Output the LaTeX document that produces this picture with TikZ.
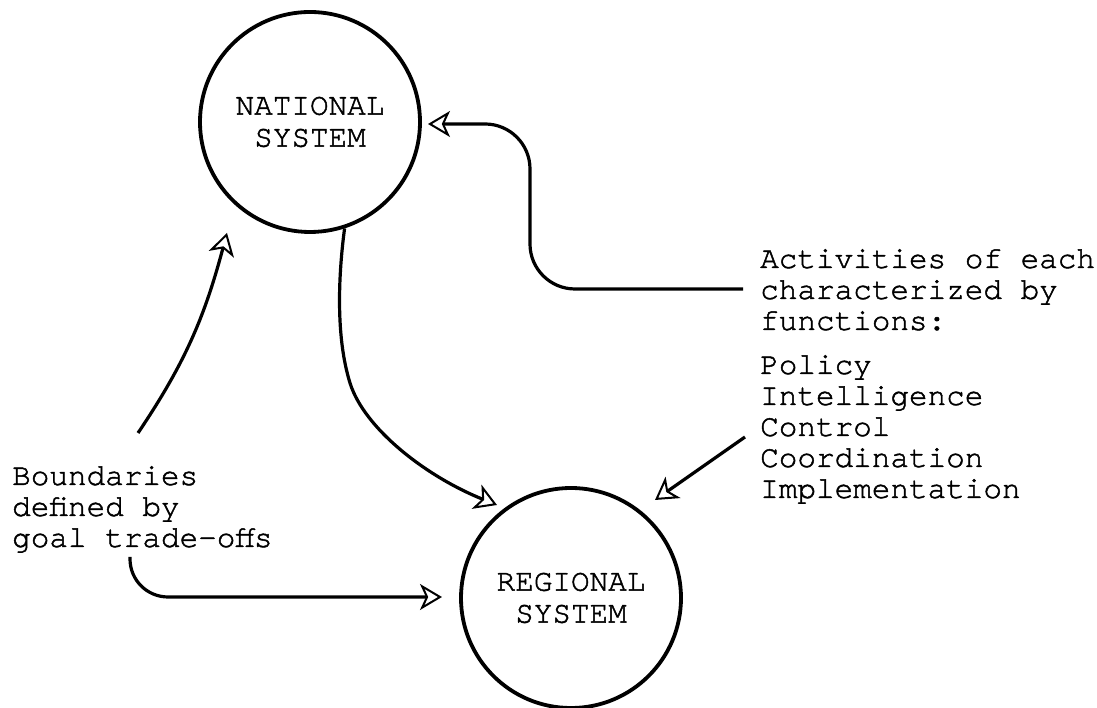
\documentclass[tikz,border=0pt]{standalone}
\usepackage{fontspec}
\setmonofont[FakeBold=1.5]{TeX Gyre Cursor}
\usetikzlibrary{arrows.meta}
\begin{document}
\begin{tikzpicture}[x=1pt,y=1pt,
  txt/.style={font=\ttfamily\fontsize{31}{31}\selectfont, inner sep=0pt, align=left},
  sys/.style={circle, draw, line width=3.8pt, minimum size=220pt, inner sep=0pt, align=center,
    font=\ttfamily\fontsize{31}{32}\selectfont},
  conn/.style={line width=3.2pt,
    -{Stealth[open, fill=white, length=22pt, width=26pt, inset=6pt, line width=2pt]}}]
\useasboundingbox (0,0) rectangle (1097,708);
\node[sys] (nat) at (310,586) {NATIONAL\\SYSTEM};
\node[sys] (reg) at (571,110) {REGIONAL\\SYSTEM};
\node[txt, anchor=base west] (act) at (760,378) {Activities of each\\characterized by\\functions:};
\node[txt, anchor=base west] (fun) at (760,210) {Policy\\Intelligence\\Control\\Coordination\\Implementation};
\node[txt, anchor=base west] (bnd) at (12,161) {Boundaries\\defined by\\goal trade-offs};
\coordinate (aS) at (743,419);
\coordinate (aT) at (428,584);
\coordinate (bS) at (138,275);
\coordinate (bT) at (227,475);
\coordinate (cT) at (497,203);
\coordinate (dS) at (745,271);
\coordinate (dT) at (655,208);
\coordinate (eS) at (130,151);
\coordinate (eT) at (442,111);
\draw[conn, rounded corners=45pt] (aS) -- (530,419) -- (530,584) -- (aT);
\draw[conn] (bS) to[out=56,in=-105] (bT);
\draw[conn] (nat.-72) .. controls (338,430) and (336,370) .. (350,325) .. controls (364,280) and (425,232) .. (cT);
\draw[conn] (dS) -- (dT);
\draw[conn, rounded corners=38pt] (eS) -- (130,111) -- (eT);
\end{tikzpicture}
\end{document}
